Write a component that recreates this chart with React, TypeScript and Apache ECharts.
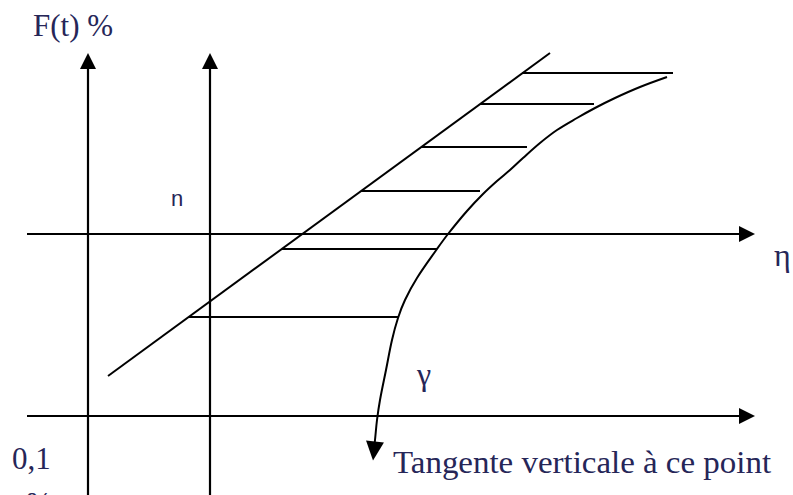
import React, { useEffect, useRef } from "react";
import * as echarts from "echarts";

// Diagram units: the x range spans 0..793 and the y range 0..495 (downwards).
const X_MAX = 793;
const Y_MAX = 495;

// Two vertical axes (x position), drawn from the bottom to the arrow.
const verticalAxisX = [88, 210];
const verticalAxisFrom = 495;
const verticalAxisTo = 61;

// Two horizontal axes (y position).
const horizontalAxisY = [234, 416];
const horizontalAxisFrom = 27;
const horizontalAxisTo = 747;

// Straight (tangent) line endpoints.
const straightLine = [
  [108, 376],
  [550, 53],
];

// Horizontal hatch segments: [y, xStart, xEnd]
const hatchSegments = [
  [73, 522, 673],
  [104, 480, 594],
  [147, 421, 527],
  [191, 361, 480],
  [249, 282, 437],
  [317, 189, 398],
];

// The curve, from its upper end down to the arrow.
const curvePoints = [
  [667, 77],
  [640, 87],
  [615, 98],
  [595, 108],
  [577, 118],
  [557, 130],
  [540, 143],
  [523, 158],
  [510, 170],
  [497, 181],
  [483, 194],
  [467, 211],
  [448, 234],
  [437, 249],
  [417, 278],
  [405, 300],
  [398, 318],
  [392, 340],
  [386, 370],
  [380, 400],
  [377, 420],
  [375, 440],
  [374, 448],
];
// Arrow head at the lower end of the curve: [x, y, rotation in degrees]
const curveArrowHead = [[374, 451, 174]];

const TEXT_COLOR = "#262658";
const SERIF = "'Liberation Serif', 'Times New Roman', serif";
const SANS = "'Liberation Sans', Arial, sans-serif";

export default function App() {
  const ref = useRef<HTMLDivElement>(null);

  useEffect(() => {
    if (!ref.current) return;
    const chart = echarts.init(ref.current, null, { renderer: "svg" });

    const arrowLines: any[] = [];
    verticalAxisX.forEach((x) =>
      arrowLines.push({ coords: [[x, verticalAxisFrom], [x, verticalAxisTo]] })
    );
    horizontalAxisY.forEach((y) =>
      arrowLines.push({ coords: [[horizontalAxisFrom, y], [horizontalAxisTo, y]] })
    );

    const plainLines: any[] = [{ coords: straightLine }];
    hatchSegments.forEach(([y, x1, x2]) =>
      plainLines.push({ coords: [[x1, y], [x2, y]] })
    );

    const option: any = {
      animation: false,
      backgroundColor: "#ffffff",
      grid: { left: 0, right: 0, top: 0, bottom: 0 },
      xAxis: { type: "value", min: 0, max: X_MAX, show: false },
      yAxis: { type: "value", min: 0, max: Y_MAX, inverse: true, show: false },
      series: [
        {
          type: "lines",
          coordinateSystem: "cartesian2d",
          data: arrowLines,
          symbol: ["none", "triangle"],
          symbolSize: [15, 16],
          lineStyle: { color: "#000", width: 2.2, opacity: 1 },
          itemStyle: { color: "#000" },
          silent: true,
          z: 3,
        },
        {
          type: "lines",
          coordinateSystem: "cartesian2d",
          data: plainLines,
          symbol: ["none", "none"],
          lineStyle: { color: "#000", width: 2, opacity: 1 },
          silent: true,
          z: 3,
        },
        {
          type: "line",
          data: curvePoints,
          smooth: 0.35,
          showSymbol: false,
          symbol: "none",
          lineStyle: { color: "#000", width: 2 },
          silent: true,
          z: 3,
        },
        {
          type: "scatter",
          data: curveArrowHead.map(([x, y, r]) => ({
            value: [x, y],
            symbolRotate: r,
          })),
          symbol: "triangle",
          symbolSize: [18, 19],
          itemStyle: { color: "#000", opacity: 1 },
          silent: true,
          z: 4,
        },
      ],
      graphic: [
        {
          type: "text",
          x: 33,
          y: 41,
          style: { text: "F(t) %", font: `31px ${SERIF}`, fill: TEXT_COLOR, textVerticalAlign: "bottom" },
        },
        {
          type: "text",
          x: 171,
          y: 209,
          style: { text: "n", font: `22px ${SANS}`, fill: TEXT_COLOR, textVerticalAlign: "bottom" },
        },
        {
          type: "text",
          x: 774,
          y: 271,
          style: { text: "η", font: `32px ${SERIF}`, fill: TEXT_COLOR, textVerticalAlign: "bottom" },
        },
        {
          type: "text",
          x: 417,
          y: 390,
          style: { text: "γ", font: `32px ${SERIF}`, fill: TEXT_COLOR, textVerticalAlign: "bottom" },
        },
        {
          type: "text",
          x: 12,
          y: 474,
          style: { text: "0,1", font: `31px ${SERIF}`, fill: TEXT_COLOR, textVerticalAlign: "bottom" },
        },
        {
          type: "text",
          x: 26,
          y: 488,
          style: { text: "%", font: `31px ${SERIF}`, fill: TEXT_COLOR, textVerticalAlign: "top" },
        },
        {
          type: "text",
          x: 393,
          y: 478,
          scaleX: 1.08,
          style: {
            text: "Tangente verticale à ce point",
            font: `30.5px ${SERIF}`,
            fill: TEXT_COLOR,
            textVerticalAlign: "bottom",
          },
        },
      ],
    };

    chart.setOption(option);
    return () => chart.dispose();
  }, []);

  return (
    <div
      ref={ref}
      style={{ position: "fixed", left: 0, top: 0, width: 793, height: 495, background: "#fff" }}
    />
  );
}
